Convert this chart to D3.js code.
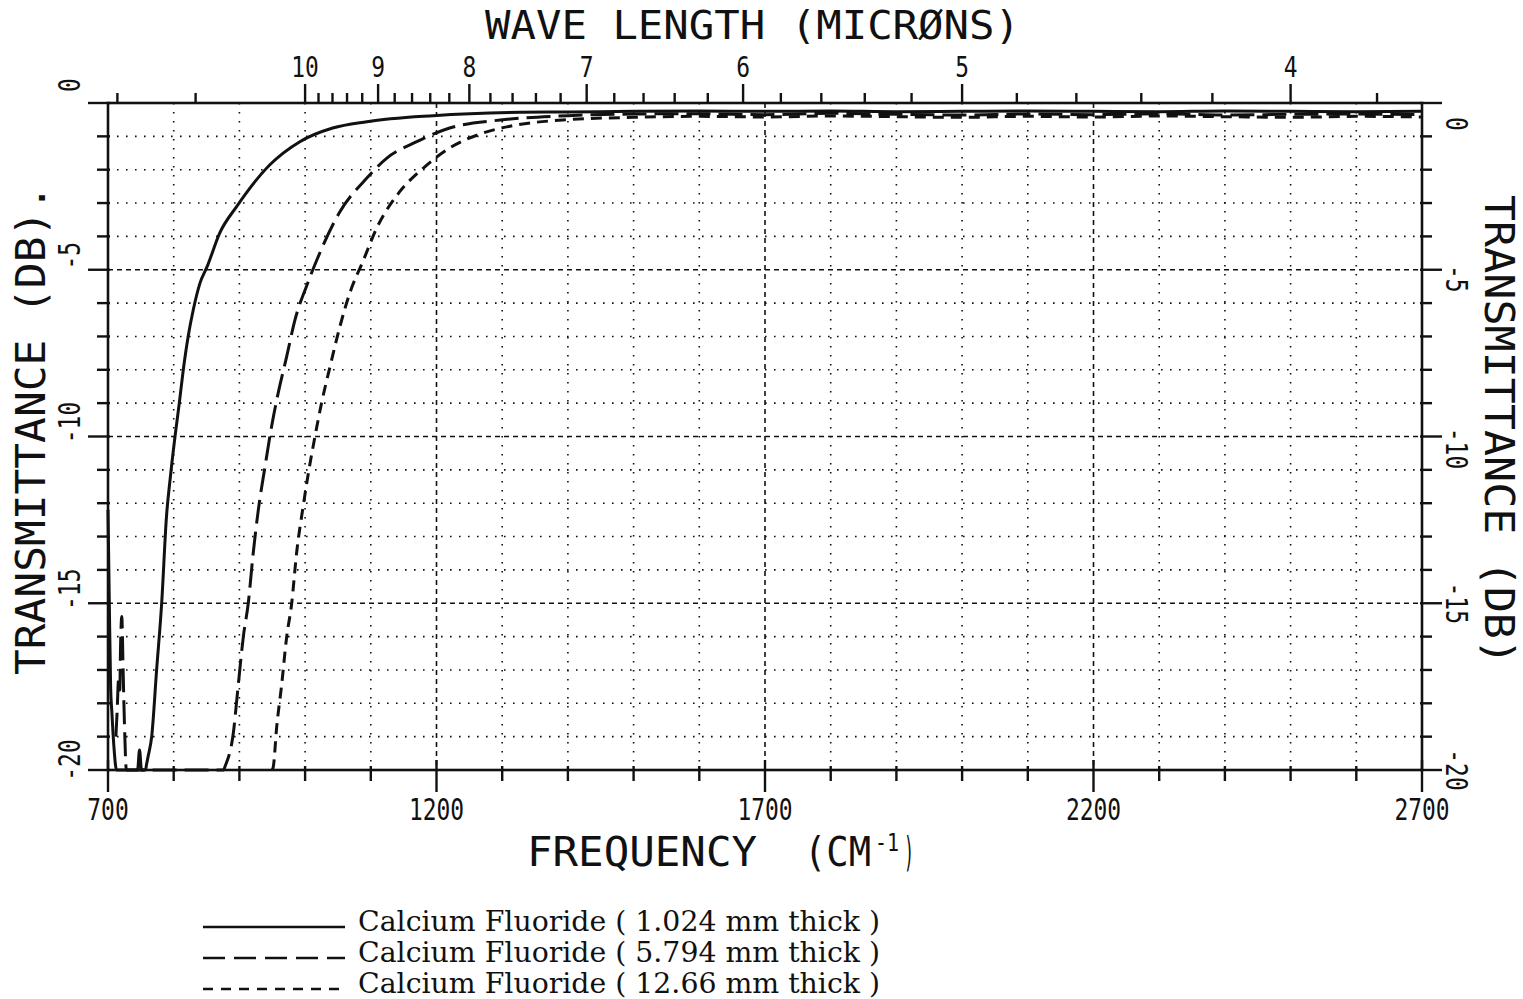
<!DOCTYPE html>
<html>
<head>
<meta charset="utf-8">
<script src="https://cdn.jsdelivr.net/npm/d3@7"></script>
<style>
  body { margin: 0; background: #fff; }
  svg { display: block; }
  .plot text { font-family: "DejaVu Sans Mono", monospace; fill: #111; }
  .legend text { font-family: "DejaVu Serif", serif; fill: #111; }
</style>
</head>
<body>
<svg id="chart" width="1523" height="999"></svg>
<script>
// Transmittance of calcium fluoride windows, frequency in cm^-1 vs dB
const thinFreq = [700, 702, 704, 706, 709, 713, 745, 748, 751, 757, 759, 761, 766.5, 774, 781.7, 789, 795, 802, 808.5, 814.6, 822, 829.8, 840, 851, 870, 896, 946, 992, 1042, 1094, 1195, 1327, 1400, 1500, 1600, 1700, 1800, 1900, 2000, 2100, 2200, 2300, 2400, 2500, 2600, 2700];
const thinDb   = [-12.2, -15, -17.5, -18.3, -19.3, -20, -20, -19.4, -20, -20, -19.8, -19.6, -19, -17, -15, -12.4, -11.2, -10, -9, -8, -7, -6.2, -5.4, -4.9, -3.9, -3.1, -1.86, -1.16, -0.75, -0.56, -0.38, -0.28, -0.27, -0.25, -0.24, -0.25, -0.24, -0.26, -0.25, -0.24, -0.25, -0.26, -0.24, -0.25, -0.26, -0.25];

const midFreq = [712, 714, 716, 718, 719, 721, 723, 725, 728, 876, 878, 890.7, 898, 906, 913.5, 921, 928.8, 939, 949, 959, 972, 984.6, 1002, 1018, 1053, 1094, 1124, 1170, 1220, 1297, 1400, 1500, 1600, 1700, 1800, 1900, 2000, 2100, 2200, 2300, 2400, 2500, 2600, 2700];
const midDb   = [-19.0, -18.2, -17.3, -17.6, -16.4, -15.4, -17.0, -18.6, -20, -20, -19.9, -18.9, -17.5, -16, -15, -13.5, -12.2, -10.9, -9.7, -8.7, -7.6, -6.5, -5.5, -4.7, -3.26, -2.25, -1.66, -1.16, -0.75, -0.51, -0.38, -0.33, -0.32, -0.35, -0.31, -0.34, -0.36, -0.33, -0.35, -0.32, -0.36, -0.34, -0.33, -0.35];

const thickFreq = [950, 951.6, 956.8, 964, 972, 979.6, 987, 997, 1005, 1015, 1025, 1038, 1053, 1068, 1088, 1109, 1144, 1180, 1220, 1271, 1322, 1400, 1500, 1600, 1700, 1800, 1900, 2000, 2100, 2200, 2300, 2400, 2500, 2600, 2700];
const thickDb   = [-20, -19.9, -18.7, -17.5, -16, -15, -13.5, -12.1, -11.1, -10, -9, -7.9, -6.7, -5.7, -4.75, -3.75, -2.66, -1.95, -1.35, -0.9, -0.66, -0.5, -0.43, -0.4, -0.42, -0.39, -0.41, -0.43, -0.4, -0.42, -0.39, -0.41, -0.43, -0.4, -0.42];

const seriesNames = [
  "Calcium Fluoride ( 1.024 mm thick )",
  "Calcium Fluoride ( 5.794 mm thick )",
  "Calcium Fluoride ( 12.66 mm thick )"
];

// Axis ticks
const freqLabels = [700, 1200, 1700, 2200, 2700];
const dbLabels = [0, -5, -10, -15, -20];
const waveLabels = [10, 9, 8, 7, 6, 5, 4];
const waveMinor = [14, 12, 9.8, 9.6, 9.4, 9.2, 8.8, 8.6, 8.4, 8.2, 7.8, 7.6, 7.4, 7.2, 6.8, 6.6, 6.4, 6.2, 5.8, 5.6, 5.4, 5.2, 4.8, 4.6, 4.4, 4.2, 3.8];

const svg = d3.select("#chart");
svg.append("rect").attr("width", 1523).attr("height", 999).attr("fill", "#fff");

const x = d3.scaleLinear().domain([700, 2700]).range([108, 1422]);
const y = d3.scaleLinear().domain([0, -20]).range([103, 770]);
const [x0, x1] = x.range();
const [y0, y1] = y.range();

const g = svg.append("g").attr("class", "plot");
const ink = "#111";

// grid
const gridDb = d3.range(-1, -20, -1);
g.append("g").selectAll("line").data(gridDb).join("line")
  .attr("x1", x0).attr("x2", x1)
  .attr("y1", d => y(d)).attr("y2", d => y(d))
  .attr("stroke", ink).attr("stroke-width", 1.6)
  .attr("stroke-dasharray", d => d % 5 === 0 ? "5,4" : "1.6,7.4");

const gridFreq = d3.range(800, 2700, 100);
g.append("g").selectAll("line").data(gridFreq).join("line")
  .attr("x1", d => x(d)).attr("x2", d => x(d))
  .attr("y1", y0).attr("y2", y1)
  .attr("stroke", ink).attr("stroke-width", 1.6)
  .attr("stroke-dasharray", d => (d - 700) % 500 === 0 ? "5,4" : "1.6,7.4");

// curves
const line = d3.line()
  .x(d => x(d[0])).y(d => y(d[1]))
  .curve(d3.curveMonotoneX);

const series = [
  { f: thinFreq, v: thinDb, dash: null },
  { f: midFreq, v: midDb, dash: "24,8" },
  { f: thickFreq, v: thickDb, dash: "11,7" }
];

g.append("g").selectAll("path").data(series).join("path")
  .attr("d", s => line(d3.zip(s.f, s.v)))
  .attr("fill", "none").attr("stroke", ink).attr("stroke-width", 3)
  .attr("stroke-linejoin", "round")
  .attr("stroke-dasharray", s => s.dash);

// frame
g.append("rect")
  .attr("x", x0).attr("y", y0)
  .attr("width", x1 - x0).attr("height", y1 - y0)
  .attr("fill", "none").attr("stroke", ink).attr("stroke-width", 2.6);

// ticks: left / right (dB)
const dbTicks = d3.range(0, -21, -1);
const ticks = g.append("g").attr("stroke", ink).attr("stroke-width", 2.4);
ticks.selectAll(".tl").data(dbTicks).join("line").attr("class", "tl")
  .attr("x1", d => d % 5 === 0 ? x0 - 20 : x0 - 11).attr("x2", x0 + 2)
  .attr("y1", d => y(d)).attr("y2", d => y(d));
ticks.selectAll(".tr").data(dbTicks).join("line").attr("class", "tr")
  .attr("x1", x1 - 2).attr("x2", d => d % 5 === 0 ? x1 + 20 : x1 + 10)
  .attr("y1", d => y(d)).attr("y2", d => y(d));

// ticks: bottom (frequency)
const freqTicks = d3.range(700, 2701, 100);
ticks.selectAll(".tb").data(freqTicks).join("line").attr("class", "tb")
  .attr("x1", d => x(d)).attr("x2", d => x(d))
  .attr("y1", d => (d - 700) % 500 === 0 ? y1 - 10 : y1 - 4)
  .attr("y2", d => (d - 700) % 500 === 0 ? y1 + 22 : y1 + 11);

// ticks: top (wavelength in microns, position = 10000 / lambda)
ticks.selectAll(".tm").data(waveMinor).join("line").attr("class", "tm")
  .attr("x1", d => x(1e4 / d)).attr("x2", d => x(1e4 / d))
  .attr("y1", y0 - 10).attr("y2", y0);
ticks.selectAll(".tM").data(waveLabels).join("line").attr("class", "tM")
  .attr("x1", d => x(1e4 / d)).attr("x2", d => x(1e4 / d))
  .attr("y1", y0 - 19).attr("y2", y0);

// text helper
function txt(parent, s, px, py, size, len, rot, anchor) {
  const t = parent.append("text")
    .attr("transform", `translate(${px},${py})` + (rot ? ` rotate(${rot})` : ""))
    .attr("text-anchor", anchor || "middle")
    .attr("font-size", size)
    .text(s);
  if (len) t.attr("textLength", len).attr("lengthAdjust", "spacingAndGlyphs");
  return t;
}

const charW = 13.8;
// bottom labels
freqLabels.forEach(f => txt(g, String(f), x(f), y1 + 50, 31, String(f).length * charW));
// top labels
waveLabels.forEach(w => txt(g, String(w), x(1e4 / w), y0 - 26, 29, String(w).length * charW));
// left labels (rotated, reading upward)
dbLabels.forEach(v => {
  const shift = v === 0 ? -18 : (v === -20 ? -10 : -14);
  txt(g, String(v), 69 + 11, y(v) + shift, 31, String(v).length * charW, -90);
});
// right labels (rotated, reading downward)
dbLabels.forEach(v => {
  const shift = v === 0 ? 21 : (v === -5 ? 9 : (v === -10 ? 12 : 0));
  txt(g, String(v), 1457 - 11, y(v) + shift, 31, String(v).length * charW, 90);
});

// axis titles
txt(g, "WAVE LENGTH (MICRØNS)", 485, 39, 39, 535, 0, "start");
txt(g, "FREQUENCY", 527, 866, 40, 230, 0, "start");
txt(g, "(CM", 804, 866, 40, 67, 0, "start");
txt(g, "-1", 875, 851, 24, 24, 0, "start");
txt(g, ")", 904, 866, 40, 10, 0, "start");
txt(g, "TRANSMITTANCE (DB).", 31 + 14, 430, 40, 490, -90);
txt(g, "TRANSMITTANCE (DB)", 1499 - 14, 430, 40, 470, 90);

// legend
const lg = svg.append("g").attr("class", "legend");
const rows = [931, 962, 993];
series.forEach((s, i) => {
  lg.append("line")
    .attr("x1", 203).attr("x2", 345)
    .attr("y1", rows[i] - 4).attr("y2", rows[i] - 4)
    .attr("stroke", ink).attr("stroke-width", 2.6)
    .attr("stroke-dasharray", i === 0 ? null : (i === 1 ? "22,9" : "10,8"));
  lg.append("text")
    .attr("x", 358).attr("y", rows[i])
    .attr("font-size", 27)
    .attr("textLength", 522).attr("lengthAdjust", "spacingAndGlyphs")
    .text(seriesNames[i]);
});
</script>
</body>
</html>
